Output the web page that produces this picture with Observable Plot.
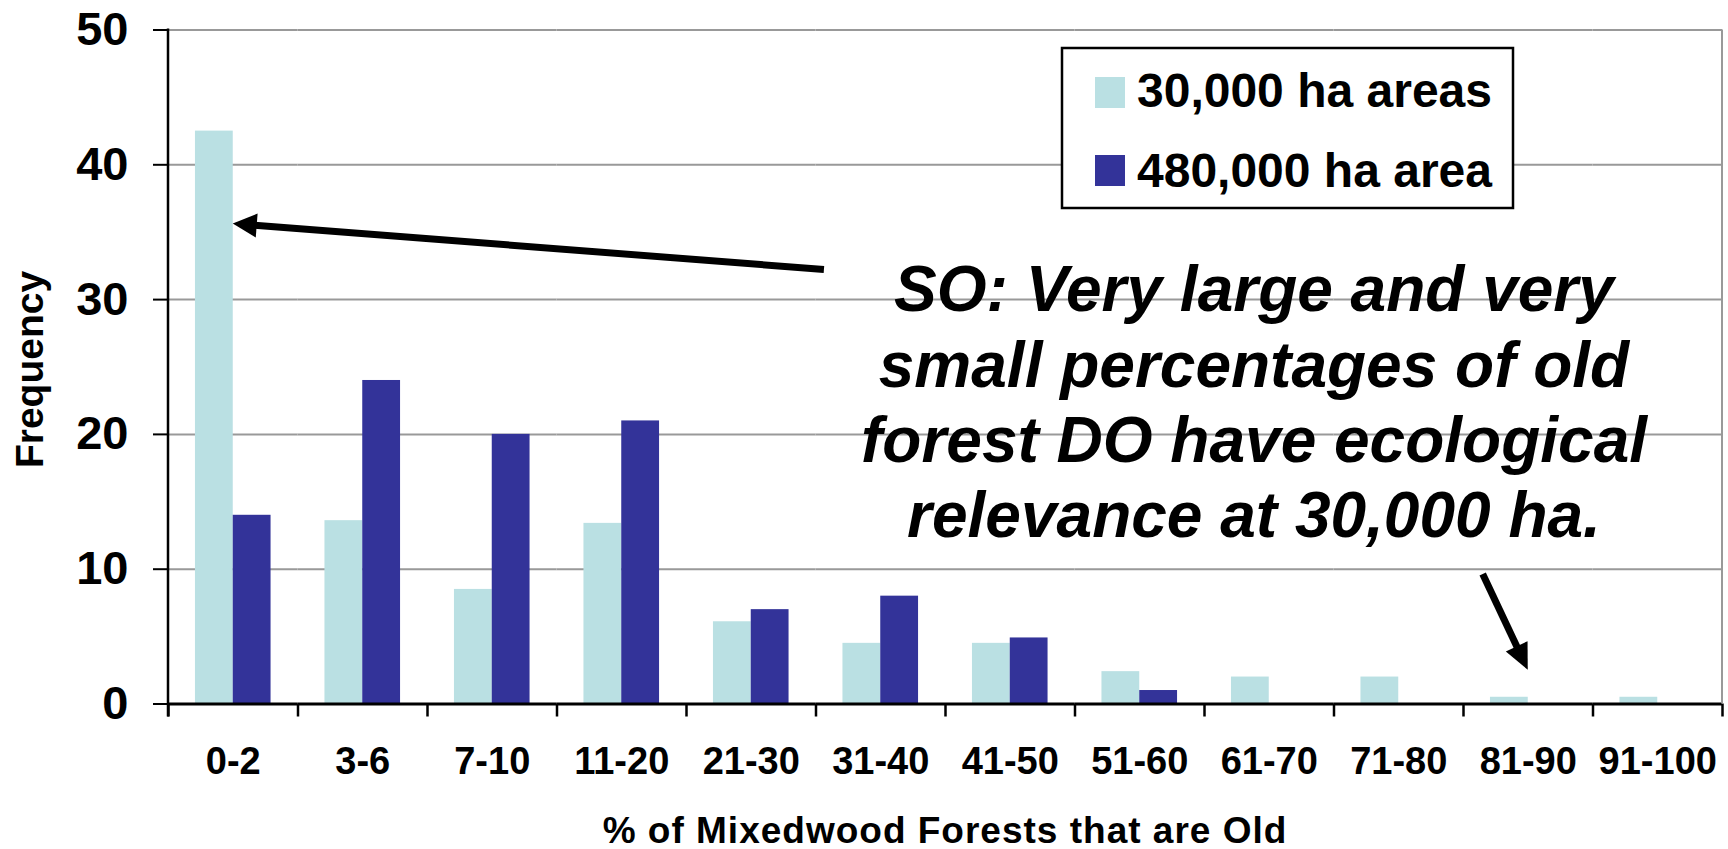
<!DOCTYPE html>
<html><head><meta charset="utf-8">
<script src="https://cdn.jsdelivr.net/npm/d3@7"></script>
<script src="https://cdn.jsdelivr.net/npm/@observablehq/plot@0.6"></script>
<style>
html,body{margin:0;padding:0;background:#fff;overflow:hidden;}
#chart svg{display:block;}
</style></head><body><div id="chart"></div>
<script>
// ---- data ----
const categories = ["0-2","3-6","7-10","11-20","21-30","31-40","41-50","51-60","61-70","71-80","81-90","91-100"];
const seriesNames = ["30,000 ha areas","480,000 ha area"];
const small = [42.5, 13.6, 8.5, 13.4, 6.1, 4.5, 4.5, 2.4, 2.0, 2.0, 0.5, 0.5];
const large = [14, 24, 20, 21, 7, 8, 4.9, 1, 0, 0, 0, 0];
const yTicks = [0, 10, 20, 30, 40, 50];
const gridValues = [10, 20, 30, 40, 50];
const colors = ["#bae0e3", "#333399"];
const xTitle = "% of Mixedwood Forests that are Old";
const yTitle = "Frequency";
const noteLines = ["SO: Very large and very", "small percentages of old", "forest DO have ecological", "relevance at 30,000 ha."];

const rows = categories.flatMap((c, i) => [
  {cat: c, series: seriesNames[0], value: small[i]},
  {cat: c, series: seriesNames[1], value: large[i]}
]);

// ---- layout ----
const W = 1728, H = 849, mL = 168, mR = 6, mT = 29.5, mB = 145.5;
const step = (W - mL - mR) / categories.length;
const FONT = "'Liberation Sans', Arial, Helvetica, sans-serif";

const plot = Plot.plot({
  width: W, height: H,
  marginLeft: mL, marginRight: mR, marginTop: mT, marginBottom: mB,
  style: {fontFamily: FONT, fontWeight: "bold", color: "#000", background: "#fff", overflow: "visible"},
  fx: {domain: categories, padding: 0, round: false, label: null},
  x: {domain: seriesNames, paddingInner: 0, paddingOuter: 0.713, round: false, axis: null},
  y: {domain: [0, 50], label: null},
  color: {domain: seriesNames, range: colors},
  marks: [
    Plot.ruleY(gridValues, {stroke: "#999", strokeWidth: 2}),
    Plot.barY(rows, {fx: "cat", x: "series", y: "value", fill: "series"}),
    Plot.ruleY([0], {stroke: "#000", strokeWidth: 3}),
    Plot.axisY({ticks: yTicks, anchor: "left", tickSize: 15, tickPadding: 25, fontSize: 47, fontWeight: "bold", strokeWidth: 2, label: null}),
    Plot.axisFx({anchor: "bottom", tickSize: 0, tickPadding: 43, fontSize: 38, fontWeight: "bold", label: null}),
    Plot.axisFx({anchor: "bottom", tickSize: 13, tickFormat: () => "", dx: -step / 2, strokeWidth: 2.5, label: null}),
    Plot.axisFx({ticks: [categories[categories.length - 1]], anchor: "bottom", tickSize: 13, tickFormat: () => "", dx: step / 2, strokeWidth: 2.5, label: null})
  ]
});
document.getElementById("chart").appendChild(plot);

// ---- overlays positioned through the plot's scales ----
const svg = d3.select(plot);
const fx = plot.scale("fx"), xs = plot.scale("x"), ys = plot.scale("y");
const catX = (c, frac) => fx.apply(c) + frac * step;
const xInBand = s => xs.apply(s) - Math.min(...xs.range);
const y0 = ys.apply(0), yTop = ys.apply(50);
const xLeft = fx.apply(categories[0]), xRight = fx.apply(categories[categories.length - 1]) + step;

const g = svg.append("g").attr("text-anchor", "start");
// right plot-area border (gray) and y axis line (black)
g.append("line").attr("x1", xRight).attr("x2", xRight).attr("y1", yTop).attr("y2", y0)
  .attr("stroke", "#999").attr("stroke-width", 2);
g.append("line").attr("x1", xLeft).attr("x2", xLeft).attr("y1", yTop - 1).attr("y2", y0 + 13)
  .attr("stroke", "#000").attr("stroke-width", 2.5);

// axis titles
g.append("text").attr("x", (xLeft + xRight) / 2).attr("y", 843)
  .attr("text-anchor", "middle").attr("font-size", 37).attr("letter-spacing", 1).attr("font-weight", "bold")
  .attr("font-family", FONT).attr("fill", "#000").text(xTitle);
g.append("text").attr("transform", `translate(43,${(yTop + y0) / 2 + 3}) rotate(-90)`)
  .attr("text-anchor", "middle").attr("font-size", 39).attr("font-weight", "bold")
  .attr("font-family", FONT).attr("fill", "#000").text(yTitle);

// legend
const lg = g.append("g");
lg.append("rect").attr("x", 1062).attr("y", 48).attr("width", 451).attr("height", 160)
  .attr("fill", "#fff").attr("stroke", "#000").attr("stroke-width", 2.5);
seriesNames.forEach((s, i) => {
  lg.append("rect").attr("x", 1095).attr("y", 77 + i * 78).attr("width", 30).attr("height", 31).attr("fill", colors[i]);
  lg.append("text").attr("x", 1137).attr("y", 107 + i * 80).attr("text-anchor", "start")
    .attr("font-size", 48).attr("font-weight", "bold")
    .attr("font-family", FONT).attr("fill", "#000").text(s);
});

// annotation text
const noteX = catX("61-70", 0.386);
const noteY = ys.apply(29.1);
noteLines.forEach((t, i) => {
  g.append("text").attr("x", noteX).attr("y", noteY + i * 75.3)
    .attr("text-anchor", "middle").attr("font-size", 64).attr("font-weight", "bold").attr("font-style", "italic")
    .attr("font-family", FONT).attr("fill", "#000").text(t);
});

// arrows
function arrow(x1, y1, x2, y2, w, hl, hw) {
  const dx = x2 - x1, dy = y2 - y1, L = Math.hypot(dx, dy);
  const ux = dx / L, uy = dy / L, px = -uy, py = ux;
  const bx = x2 - ux * hl, by = y2 - uy * hl;
  g.append("line").attr("x1", x1).attr("y1", y1).attr("x2", bx + ux * 2).attr("y2", by + uy * 2)
    .attr("stroke", "#000").attr("stroke-width", w);
  g.append("polygon").attr("points", [[x2, y2], [bx + px * hw, by + py * hw], [bx - px * hw, by - py * hw]].map(p => p.join(",")).join(" "))
    .attr("fill", "#000");
}
arrow(catX("31-40", 0.065), ys.apply(32.2),
      fx.apply(categories[0]) + xInBand(seriesNames[0]) + xs.bandwidth, ys.apply(35.6), 7, 24, 12);
arrow(catX("81-90", 0.152), ys.apply(9.6), catX("81-90", 0.5), ys.apply(2.5), 7, 26, 12);
</script>
</body></html>
